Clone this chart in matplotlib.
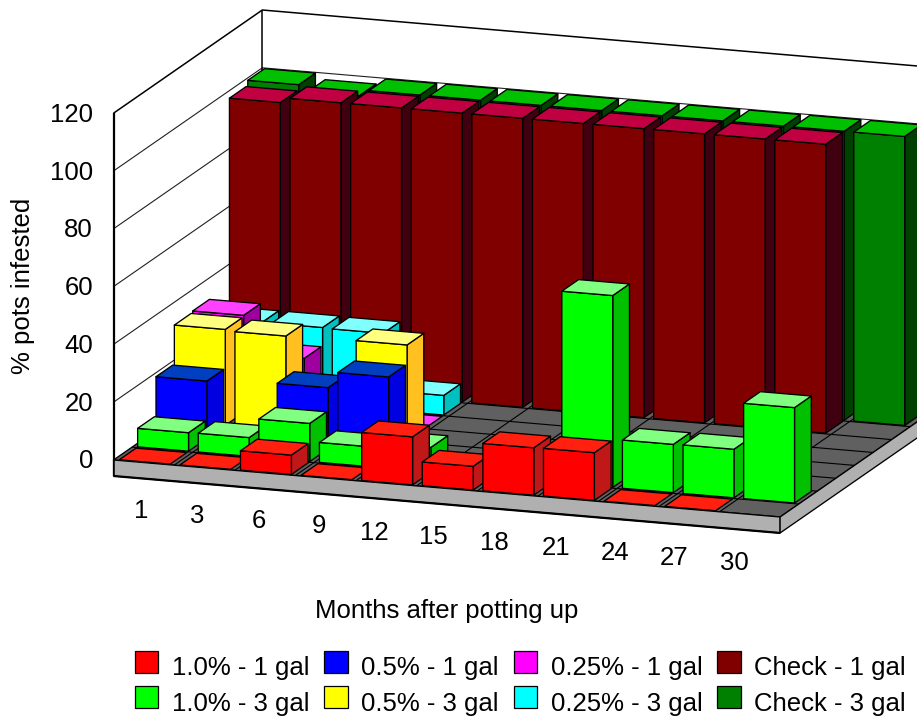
import numpy as np
import matplotlib
matplotlib.use("Agg")
import matplotlib.pyplot as plt
from matplotlib.patches import Polygon, Patch

plt.rcParams['font.family'] = ['Liberation Sans', 'DejaVu Sans']

months = ['1', '3', '6', '9', '12', '15', '18', '21', '24', '27', '30']
n = np.nan
check_3gal = [100, 98, 100, 100, 100, 100, 100, 100, 100, 100, 100]
check_1gal = [98.3, 100, 100, 100, 100, 100, 100, 100, 100, 100, n]
p025_3gal = [26.7, 26.7, 26.5, 6.8, n, n, n, n, n, n, n]
p025_1gal = [33.6, 20.5, 0, 0, n, n, n, n, n, n, n]
p05_3gal = [33.2, 32.7, 0, 33.2, n, n, n, n, n, n, n]
p05_1gal = [19.8, 0, 21.1, 26.6, n, n, n, n, n, n, n]
p10_3gal = [6.4, 6.5, 13.2, 6.9, 8.5, n, n, 66.4, 16.7, 16.8, 33]
p10_1gal = [0, 0, 6.7, 0, 16.6, 8.2, 16.4, 16.5, 0, 0, n]

rows = [p10_1gal, p10_3gal, p05_1gal, p05_3gal, p025_1gal, p025_3gal, check_1gal, check_3gal]
labels = ['1.0% - 1 gal', '1.0% - 3 gal', '0.5% - 1 gal', '0.5% - 3 gal',
          '0.25% - 1 gal', '0.25% - 3 gal', 'Check - 1 gal', 'Check - 3 gal']
# front, top, side
colors = [('#ff0000', '#ff2010', '#c01818'),
          ('#00ff00', '#80ff80', '#00c000'),
          ('#0000ff', '#0040c0', '#0000e0'),
          ('#ffff00', '#ffff80', '#ffc020'),
          ('#ff00ff', '#ff40ff', '#a000a0'),
          ('#00ffff', '#80ffff', '#00c0c0'),
          ('#800000', '#c00040', '#400010'),
          ('#008000', '#00c000', '#004000')]
yticks = [0, 20, 40, 60, 80, 100, 120]

W, H = 917, 719
O = np.array([113.5, 460.0])
EX = np.array([60.6, 5.18])
ED = np.array([18.6, -12.9])
ZS = 2.89
NX, ND = len(months), len(rows)
SLAB = 16
LABEL_X = [141, 197.6, 258.8, 318.8, 373.9, 433.5, 494, 556, 614.7, 674, 734]
LABEL_Y = [511, 516, 521, 526, 533, 537, 543, 548, 553, 558, 563]


def P(x, d, z=0.0):
    p = O + x * EX + d * ED
    return (p[0], p[1] - z * ZS)


fig = plt.figure(figsize=(W / 100, H / 100), dpi=100)
ax = fig.add_axes([0, 0, 1, 1])
ax.set_xlim(0, W)
ax.set_ylim(H, 0)
ax.axis('off')
order = [1]


def nz():
    order[0] += 1
    return order[0]


def poly(pts, fc, lw=0.95, ec='black'):
    ax.add_patch(Polygon(pts, closed=True, facecolor=fc, edgecolor=ec, linewidth=lw,
                         joinstyle='round', zorder=nz()))


def line(pts, lw=0.8, c='black'):
    xs, ys = zip(*pts)
    ax.plot(xs, ys, color=c, lw=lw, solid_capstyle='butt', zorder=nz())


# walls and gridlines
for t in yticks[1:-1]:
    line([P(0, 0, t), P(0, ND, t), P(NX * 1.2, ND, t)], lw=0.8, c='#202020')
line([P(0, ND, 0), P(0, ND, 120)], lw=1.1)
line([P(0, 0, 120), P(0, ND, 120), P(NX * 1.2, ND, 120)], lw=1.1)
line([P(0, 0, 0), P(0, 0, 120)], lw=1.6)

# base slab
a, b, c, d = P(0, 0), P(NX, 0), P(NX, ND), P(0, ND)
poly([a, b, c, d], '#606060')
poly([a, b, (b[0], b[1] + SLAB), (a[0], a[1] + SLAB)], '#b0b0b0')
poly([b, c, (c[0], c[1] + SLAB), (b[0], b[1] + SLAB)], '#b0b0b0')
for i in range(1, NX):
    line([P(i, 0), P(i, ND)], lw=0.8)
for j in range(1, ND):
    line([P(0, j), P(NX, j)], lw=0.8)
line([(a[0], a[1] + SLAB), (b[0], b[1] + SLAB)], lw=1.6)
line([(a[0], a[1]), (a[0], a[1] + SLAB)], lw=1.1)

# bars, back row first, left to right
X0, X1, D0, D1 = 0.08, 0.92, 0.05, 0.95
for r in range(ND - 1, -1, -1):
    front, top, side = colors[r]
    for i, v in enumerate(rows[r]):
        if np.isnan(v):
            continue
        x0, x1, d0, d1 = i + X0 - 0.004 * r, i + X1 - 0.004 * r, r + D0, r + D1
        if v > 0:
            poly([P(x1, d0, 0), P(x1, d1, 0), P(x1, d1, v), P(x1, d0, v)], side)
            poly([P(x0, d0, 0), P(x1, d0, 0), P(x1, d0, v), P(x0, d0, v)], front)
        poly([P(x0, d0, v), P(x1, d0, v), P(x1, d1, v), P(x0, d1, v)], top)

# axis text
FS = 18.5
TZ = nz()
for t in yticks:
    ax.text(93, P(0, 0, t)[1] + 1.5, str(t), ha='right', va='center', fontsize=FS, color='black', zorder=TZ)
for i, m in enumerate(months):
    ax.text(LABEL_X[i], LABEL_Y[i], m, ha='center', va='center', fontsize=FS, color='black', zorder=TZ)
ax.text(23, 286, '% pots infested', rotation=90, ha='center', va='center', fontsize=FS, zorder=TZ)
ax.text(447, 611, 'Months after potting up', ha='center', va='center', fontsize=FS, zorder=TZ)

handles = [Patch(facecolor=colors[k][0], edgecolor='black', linewidth=0.9, label=labels[k]) for k in range(ND)]
leg = ax.legend(handles=handles, ncol=4, frameon=False, fontsize=FS,
                loc='lower left', bbox_to_anchor=(135 / W, 1 - 711 / H), bbox_transform=fig.transFigure,
                handlelength=0.9, handleheight=0.93, handletextpad=0.54, columnspacing=0.58,
                labelspacing=0.42, borderpad=0, borderaxespad=0)
leg.set_zorder(TZ)
for txt in leg.get_texts():
    txt.set_y(-4.5)

fig.savefig('out.png', dpi=100)
